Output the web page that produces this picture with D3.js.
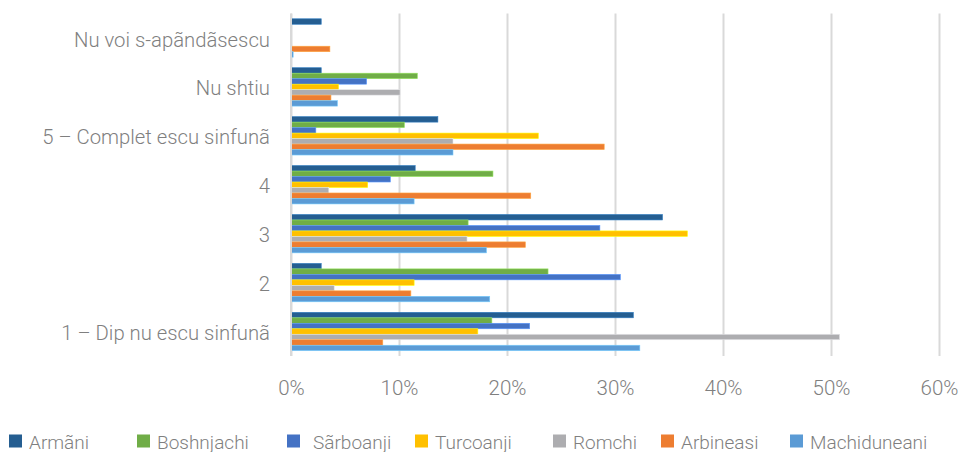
<!DOCTYPE html>
<html>
<head>
<meta charset="utf-8">
<script src="https://cdn.jsdelivr.net/npm/d3@7"></script>
<style>
  html, body { margin: 0; padding: 0; background: #ffffff; }
  svg { display: block; }
  text { font-family: Roboto, "Noto Sans", sans-serif; font-weight: 300; fill: #7f7f7f; }
</style>
</head>
<body>
<svg id="chart" width="961" height="452"></svg>
<script>
// ---- data ----
const categories = [
  "Nu voi s-apãndãsescu",
  "Nu shtiu",
  "5 – Complet escu sinfunã",
  "4",
  "3",
  "2",
  "1 – Dip nu escu sinfunã"
];
const seriesNames = ["Armãni", "Boshnjachi", "Sãrboanji", "Turcoanji", "Romchi", "Arbineasi", "Machiduneani"];
const seriesColors = ["#255e91", "#70ad47", "#4472c4", "#ffc000", "#adadb0", "#ed7d31", "#5b9bd5"];

const armani       = [2.8, 2.8, 13.6, 11.5, 34.4, 2.8, 31.7];
const boshnjachi   = [0, 11.7, 10.5, 18.7, 16.4, 23.8, 18.6];
const sarboanji    = [0, 7.0, 2.3, 9.2, 28.6, 30.5, 22.1];
const turcoanji    = [0, 4.4, 22.9, 7.1, 36.7, 11.4, 17.3];
const romchi       = [0, 10.1, 15.0, 3.5, 16.3, 4.0, 50.8];
const arbineasi    = [3.6, 3.7, 29.0, 22.2, 21.7, 11.1, 8.5];
const machiduneani = [0.2, 4.3, 15.0, 11.4, 18.1, 18.4, 32.3];

const xTicks = [0, 10, 20, 30, 40, 50, 60];
const legendX = [9, 137, 287, 415, 553, 661, 790];

const seriesValues = [armani, boshnjachi, sarboanji, turcoanji, romchi, arbineasi, machiduneani];

// ---- layout ----
const svg = d3.select("#chart");
const plot = { left: 291, right: 939, top: 13.5, bottom: 356 };

const x = d3.scaleLinear().domain([0, 60]).range([plot.left, plot.right]);
const y = d3.scaleBand().domain(categories).range([plot.top, plot.bottom])
  .paddingInner(0.215).paddingOuter(0.108);
const ySub = d3.scaleBand().domain(seriesNames).range([0, y.bandwidth()]);

// gridlines
const grid = svg.append("g").attr("class", "grid")
  .attr("transform", `translate(0,${plot.top})`)
  .call(d3.axisBottom(x).tickValues(xTicks).tickSize(plot.bottom - plot.top).tickFormat(""));
grid.select(".domain").remove();
grid.selectAll("line").attr("stroke", "#d9d9d9").attr("stroke-width", 2);

// bars
const rows = categories.map((c, i) => ({ cat: c, vals: seriesNames.map((s, j) => ({ s, j, v: seriesValues[j][i] })) }));
const groups = svg.append("g").selectAll("g").data(rows).join("g")
  .attr("transform", d => `translate(0,${y(d.cat)})`);
groups.selectAll("rect").data(d => d.vals.filter(v => v.v > 0)).join("rect")
  .attr("x", x(0))
  .attr("y", d => ySub(d.s))
  .attr("width", d => x(d.v) - x(0))
  .attr("height", ySub.bandwidth())
  .attr("fill", d => seriesColors[d.j])
  .attr("stroke", d => d3.color(seriesColors[d.j]).brighter(0.8))
  .attr("stroke-width", 0.6);

// y axis labels
const yAxis = svg.append("g").attr("transform", `translate(${plot.left},0)`)
  .call(d3.axisLeft(y).tickSize(0).tickPadding(21));
yAxis.select(".domain").remove();
yAxis.selectAll("text")
  .style("font-family", "Roboto, sans-serif").style("font-weight", 300)
  .attr("font-size", 20.3).attr("fill", "#7f7f7f").attr("dy", "0.42em");

// zero line
svg.append("line").attr("x1", x(0)).attr("x2", x(0)).attr("y1", plot.top).attr("y2", plot.bottom)
  .attr("stroke", "#d9d9d9").attr("stroke-width", 2);

// x axis labels
const xAxis = svg.append("g").attr("transform", `translate(0,${395})`)
  .call(d3.axisBottom(x).tickValues(xTicks).tickSize(0).tickPadding(0).tickFormat(d => d + "%"));
xAxis.select(".domain").remove();
xAxis.selectAll("text")
  .style("font-family", "Roboto, sans-serif").style("font-weight", 300)
  .attr("font-size", 20.5).attr("fill", "#7f7f7f").attr("dy", "0").attr("y", 0);

// legend
const legend = svg.append("g").selectAll("g").data(seriesNames).join("g")
  .attr("transform", (d, i) => `translate(${legendX[i]},0)`);
legend.append("rect").attr("x", 0).attr("y", 434.5).attr("width", 13).attr("height", 13)
  .attr("fill", (d, i) => seriesColors[i]);
legend.append("text").attr("x", (d, i) => i === 2 ? 26 : 20).attr("y", 448.5)
  .attr("font-size", 19).text(d => d);
</script>
</body>
</html>
